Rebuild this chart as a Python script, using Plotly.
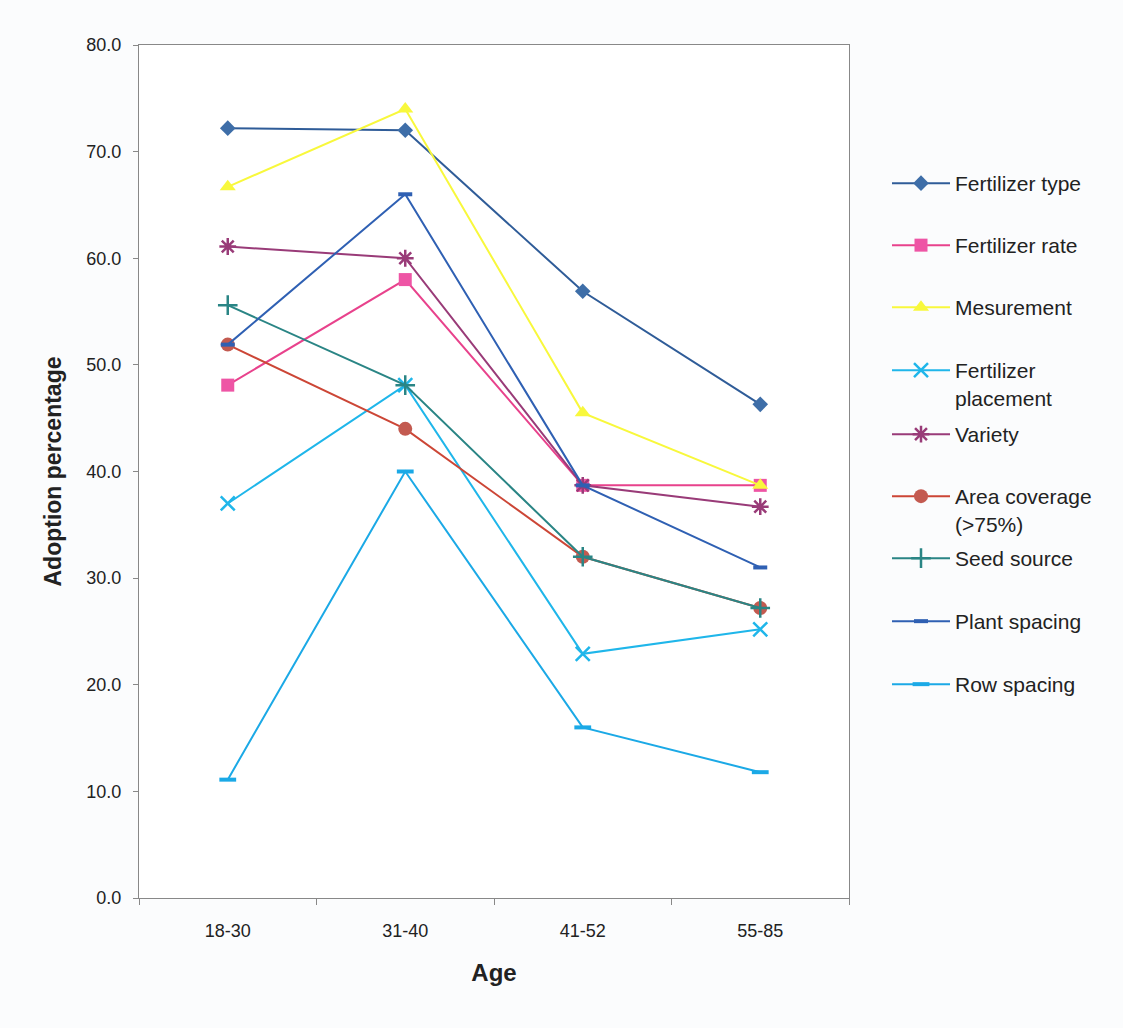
import plotly.graph_objects as go

ages = ["18-30", "31-40", "41-52", "55-85"]

fertilizer_type = [72.2, 72.0, 56.9, 46.3]
fertilizer_rate = [48.1, 58.0, 38.7, 38.7]
mesurement = [66.7, 74.0, 45.5, 38.7]
fertilizer_placement = [37.0, 48.1, 22.9, 25.2]
variety = [61.1, 60.0, 38.7, 36.7]
area_coverage = [51.9, 44.0, 32.0, 27.2]
seed_source = [55.6, 48.1, 32.0, 27.2]
plant_spacing = [51.9, 66.0, 38.7, 31.0]
row_spacing = [11.1, 40.0, 16.0, 11.8]

series = [
    ("Fertilizer type", fertilizer_type, "#2F5C98", "#3E6EA8", "diamond", 12, 0),
    ("Fertilizer rate", fertilizer_rate, "#E8428C", "#EE55A5", "square", 13, 0),
    ("Mesurement", mesurement, "#F8F83C", "#F8F83C", "triangle-up", 14, 0),
    ("Fertilizer<br>placement", fertilizer_placement, "#1FB6EA", "#1FB6EA", "x-thin", 14, 2.5),
    ("Variety", variety, "#993B78", "#993B78", "asterisk", 14, 2.5),
    ("Area coverage<br>(>75%)", area_coverage, "#CC4636", "#C35A50", "circle", 14, 0),
    ("Seed source", seed_source, "#2A8585", "#2A8585", "cross-thin", 14, 2.5),
    ("Plant spacing", plant_spacing, "#2F60B3", "#2F60B3", "line-ew", 10, 4),
    ("Row spacing", row_spacing, "#1BA9E6", "#1BA9E6", "line-ew", 12, 4),
]

# vertical pixel position of each legend entry's first line
legend_rows = [183, 245, 307, 370, 434, 496, 558, 621, 684]

fig = go.Figure()
layout_legends = {}
for i, (name, vals, lc, mc, sym, sz, mlw) in enumerate(series):
    key = "legend" if i == 0 else f"legend{i+1}"
    fig.add_trace(go.Scatter(
        x=ages, y=vals, name=name, mode="lines+markers",
        legend=key,
        line=dict(color=lc, width=2),
        marker=dict(symbol=sym, size=sz, color=mc,
                    line=dict(color=mc, width=mlw)),
    ))
    layout_legends[key] = dict(
        xref="container", yref="container",
        x=887 / 1123, y=1 - (legend_rows[i] - 20) / 1028,
        xanchor="left", yanchor="top",
        font=dict(size=21, color="#222"),
        valign="top", bgcolor="rgba(0,0,0,0)",
        itemwidth=58,
    )

fig.update_layout(
    width=1123, height=1028,
    paper_bgcolor="#fbfcfd", plot_bgcolor="white",
    margin=dict(l=139, r=274, t=45, b=130),
    font=dict(family="Liberation Sans, Arial, sans-serif", color="#222"),
    showlegend=True,
    **layout_legends,
)
fig.update_xaxes(
    type="category", range=[-0.5, 3.5], tickson="boundaries",
    ticks="outside", ticklen=6, tickcolor="#888",
    showline=True, linecolor="#888", linewidth=1, mirror=True,
    showgrid=False, zeroline=False,
    tickfont=dict(size=18, color="#222"), ticklabelstandoff=16,
    title=dict(text="<b>Age</b>", font=dict(size=24, color="#222"), standoff=24),
)
fig.update_yaxes(
    range=[0, 80], dtick=10, tickformat=".1f",
    ticks="outside", ticklen=5, tickcolor="#888",
    showline=True, linecolor="#888", linewidth=1, mirror=True,
    showgrid=False, zeroline=False,
    tickfont=dict(size=18, color="#222"), ticklabelstandoff=8,
    title=dict(text="<b>Adoption percentage</b>", font=dict(size=23, color="#222"), standoff=18),
)

fig.write_html("out.html")
